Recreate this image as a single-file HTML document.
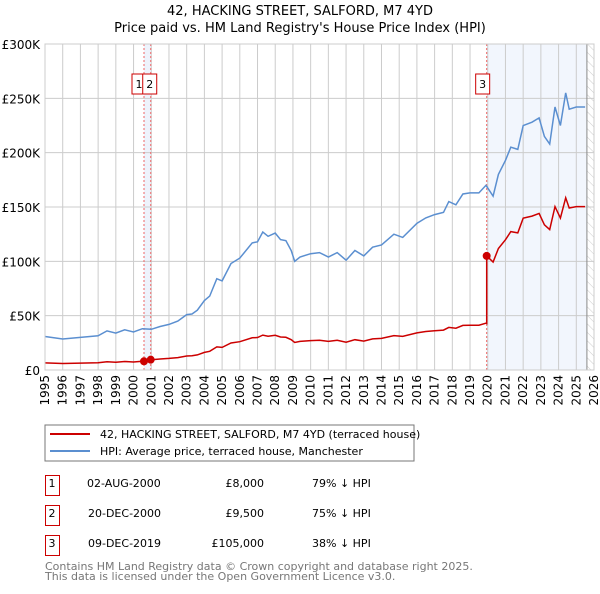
<!DOCTYPE html>
<html><head><meta charset="utf-8"><style>
body{margin:0;background:#fff;font-family:"DejaVu Sans","Liberation Sans",sans-serif;}
svg text{font-family:"DejaVu Sans","Liberation Sans",sans-serif;}
</style></head><body>
<svg id="c" width="600" height="590" xmlns="http://www.w3.org/2000/svg">
<defs><pattern id="hatch" width="6" height="6" patternUnits="userSpaceOnUse" patternTransform="rotate(-45)"><line x1="0" y1="0" x2="0" y2="6" stroke="#ccc" stroke-width="1"/></pattern></defs>
<text x="300" y="15" text-anchor="middle" font-size="13">42, HACKING STREET, SALFORD, M7 4YD</text>
<text x="300" y="32" text-anchor="middle" font-size="13">Price paid vs. HM Land Registry's House Price Index (HPI)</text>
<g id="plot"></g>
<rect x="45" y="425" width="369" height="36" fill="#fff" stroke="#777"/>
<line x1="50" y1="434" x2="90" y2="434" stroke="#cc0000" stroke-width="2"/>
<text x="100" y="438" font-size="11">42, HACKING STREET, SALFORD, M7 4YD (terraced house)</text>
<line x1="50" y1="451" x2="90" y2="451" stroke="#5b8fd0" stroke-width="2"/>
<text x="100" y="455" font-size="11">HPI: Average price, terraced house, Manchester</text>
<g font-size="11">
<rect x="45.5" y="475.5" width="14" height="20" fill="none" stroke="#c00"/><text x="52" y="487" text-anchor="middle">1</text>
<text x="87" y="487">02-AUG-2000</text><text x="264" y="487" text-anchor="end">£8,000</text><text x="312" y="487">79% ↓ HPI</text>
<rect x="45.5" y="505.5" width="14" height="20" fill="none" stroke="#c00"/><text x="52" y="517" text-anchor="middle">2</text>
<text x="88" y="517">20-DEC-2000</text><text x="264" y="517" text-anchor="end">£9,500</text><text x="312" y="517">75% ↓ HPI</text>
<rect x="45.5" y="535.5" width="14" height="20" fill="none" stroke="#c00"/><text x="52" y="547" text-anchor="middle">3</text>
<text x="88" y="547">09-DEC-2019</text><text x="264" y="547" text-anchor="end">£105,000</text><text x="312" y="547">38% ↓ HPI</text>
</g>
<text x="45" y="570" font-size="11" fill="#777">Contains HM Land Registry data © Crown copyright and database right 2025.</text>
<text x="45" y="580" font-size="11" fill="#777">This data is licensed under the Open Government Licence v3.0.</text>
</svg>
<script>
const hpiYears=[1995,1996,1997,1998,1998.5,1999,1999.5,2000,2000.5,2001,2001.5,2002,2002.5,2003,2003.3,2003.6,2004,2004.3,2004.7,2005,2005.5,2006,2006.7,2007,2007.3,2007.6,2008,2008.3,2008.6,2008.9,2009.1,2009.4,2010,2010.5,2011,2011.5,2012,2012.5,2013,2013.5,2014,2014.7,2015.2,2016,2016.5,2017,2017.5,2017.8,2018.2,2018.6,2019,2019.5,2019.9,2020.3,2020.6,2021,2021.3,2021.7,2022,2022.5,2022.9,2023.2,2023.5,2023.8,2024.1,2024.4,2024.6,2025,2025.5];
const hpiValues=[30800,28500,30000,31500,36000,34000,37000,35000,38000,37500,40000,42000,45000,51000,51500,55000,64000,68000,84000,82000,98000,103000,117000,118000,127000,123000,126000,120000,119000,110000,100000,104000,107000,108000,104000,108000,101000,110000,105000,113000,115000,125000,122000,135000,140000,143000,145000,155000,152000,162000,163000,163000,170000,160000,180000,193000,205000,203000,225000,228000,232000,215000,208000,242000,225000,255000,240000,242000,242000];
const saleYears=[2000.59,2000.97,2019.94];
const salePrices=[8000,9500,105000];
const saleLabels=["1","2","3"];
const yTicks=[0,50000,100000,150000,200000,250000,300000];
const yTickLabels=["£0","£50K","£100K","£150K","£200K","£250K","£300K"];
const xTicks=[1995,1996,1997,1998,1999,2000,2001,2002,2003,2004,2005,2006,2007,2008,2009,2010,2011,2012,2013,2014,2015,2016,2017,2018,2019,2020,2021,2022,2023,2024,2025,2026];

const X0=45,X1=594,Y0=370,Y1=44,xMin=1995,xMax=2026,yMax=300000,dataEnd=2025.6;
const xs=v=>X0+(v-xMin)/(xMax-xMin)*(X1-X0);
const ys=v=>Y0-v/yMax*(Y0-Y1);
const NS="http://www.w3.org/2000/svg";
const g=document.getElementById('plot');
function mk(t,a){const e=document.createElementNS(NS,t);for(const k in a)e.setAttribute(k,a[k]);g.appendChild(e);return e;}
function hpiAt(t){if(t<=hpiYears[0])return hpiValues[0];for(let i=1;i<hpiYears.length;i++){if(t<=hpiYears[i]){const f=(t-hpiYears[i-1])/(hpiYears[i]-hpiYears[i-1]);return hpiValues[i-1]+f*(hpiValues[i]-hpiValues[i-1]);}}return hpiValues[hpiValues.length-1];}

let e;
e=mk('rect',{x:xs(saleYears[0]),y:Y1,width:xs(saleYears[1])-xs(saleYears[0]),height:Y0-Y1,fill:'#eef3fc'});


e=mk('rect',{x:xs(saleYears[2]),y:Y1,width:xs(dataEnd)-xs(saleYears[2]),height:Y0-Y1,fill:'#f2f6fd'});


e=mk('rect',{x:xs(dataEnd),y:Y1,width:X1-xs(dataEnd),height:Y0-Y1,fill:'url(#hatch)'});


xTicks.forEach(t=>{
 e=mk('line',{x1:xs(t),x2:xs(t),y1:Y1,y2:Y0,stroke:'#ccc','stroke-width':1});
 
 
 e=mk('text',{x:0,y:0,'font-size':12,'text-anchor':'end',transform:`translate(${xs(t)+4},${Y0+5}) rotate(-90)`});
 e.textContent=t;
 
 
});
yTicks.forEach((t,i)=>{
 e=mk('line',{x1:X0,x2:X1,y1:ys(t),y2:ys(t),stroke:'#ccc','stroke-width':1});
 
 
 e=mk('text',{x:40,y:ys(t)+5,'font-size':12,'text-anchor':'end'});
 e.textContent=yTickLabels[i];
 
 
});
e=mk('line',{x1:xs(dataEnd),x2:xs(dataEnd),y1:Y1,y2:Y0,stroke:'#888','stroke-width':1});


saleYears.forEach((s,i)=>{
 e=mk('line',{x1:xs(s),x2:xs(s),y1:Y1,y2:Y0,stroke:'#e66','stroke-width':1,'stroke-dasharray':'2,2'});
 
 
});
let d='';
hpiYears.forEach((y,i)=>{if(y<=dataEnd)d+=(d?'L':'M')+xs(y).toFixed(1)+','+ys(hpiValues[i]).toFixed(1);});
e=mk('path',{d:d,fill:'none',stroke:'#5b8fd0','stroke-width':1.5});


function ratioAt(t){let r=salePrices[0]/hpiAt(saleYears[0]);for(let i=0;i<saleYears.length;i++)if(t>=saleYears[i])r=salePrices[i]/hpiAt(saleYears[i]);return r;}
const pts=[...hpiYears.filter(y=>y<=dataEnd)];
saleYears.forEach(s=>{pts.push(s-0.001);pts.push(s);});
pts.sort((a,b)=>a-b);
d='';
pts.forEach(t=>{d+=(d?'L':'M')+xs(t).toFixed(1)+','+ys(hpiAt(t)*ratioAt(t)).toFixed(1);});
e=mk('path',{d:d,fill:'none',stroke:'#cc0000','stroke-width':1.5});


saleYears.forEach((s,i)=>{
 e=mk('circle',{cx:xs(s),cy:ys(salePrices[i]),r:4,fill:'#cc0000'});
 
 
 const bx=xs(s)-(i===0?12:i===1?8:11);
 e=mk('rect',{x:bx,y:74,width:14,height:20,fill:'#fff',stroke:'#c00'});
 
 
 e=mk('text',{x:bx+7,y:88,'font-size':11,'text-anchor':'middle'});
 e.textContent=saleLabels[i];
 
 
});
e=mk('rect',{x:X0,y:Y1,width:X1-X0,height:Y0-Y1,fill:'none',stroke:'#ccc'});


</script>
</body></html>
